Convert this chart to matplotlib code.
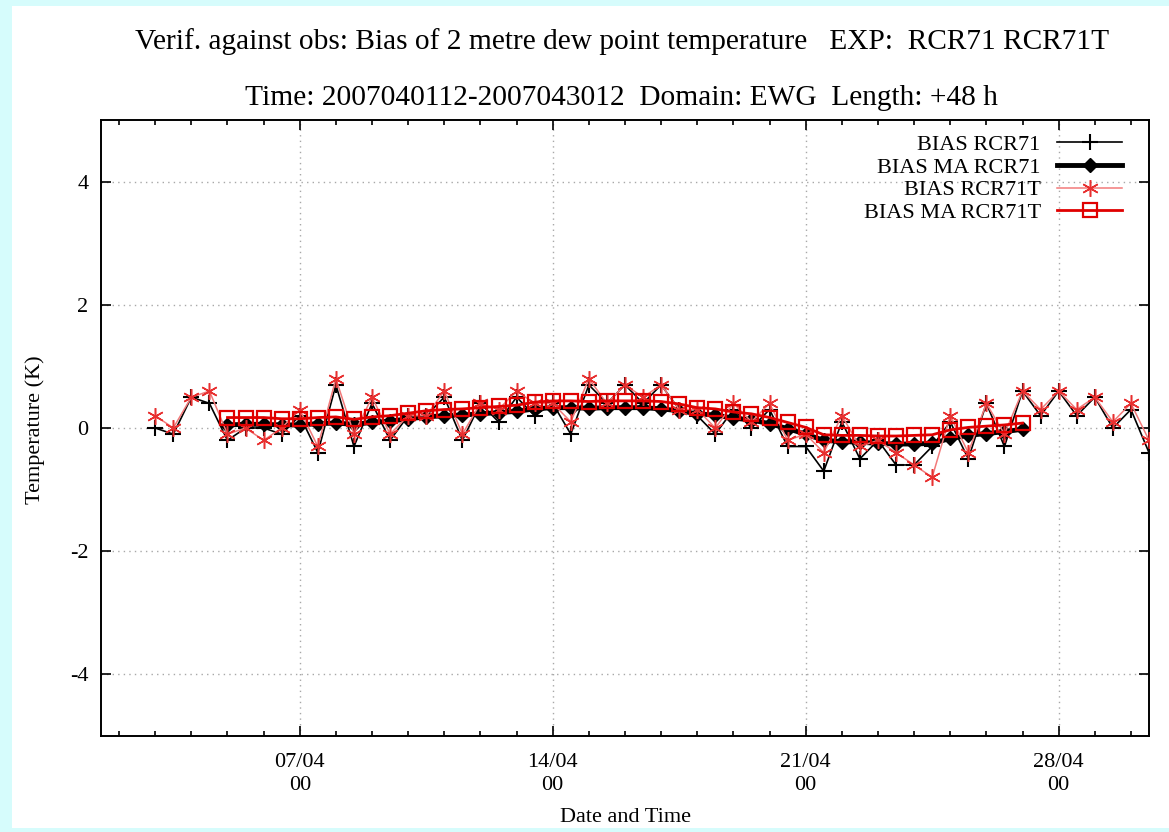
import numpy as np
import pandas as pd
import matplotlib
matplotlib.use("Agg")
import matplotlib.pyplot as plt
import matplotlib.dates as mdates
from matplotlib.patches import Rectangle

plt.rcParams["font.family"] = ["Liberation Serif", "DejaVu Serif"]
plt.rcParams["axes.unicode_minus"] = False

# valid times, every 12 h
times = pd.date_range("2007-04-03 00:00", periods=56, freq="12h")

bias_rcr71 = [0.0, -0.1, 0.5, 0.4, -0.2, 0.0, 0.0, -0.1, 0.2, -0.4,
              0.7, -0.3, 0.4, -0.2, 0.2, 0.2, 0.5, -0.2, 0.4, 0.1,
              0.5, 0.2, 0.4, -0.1, 0.7, 0.4, 0.7, 0.4, 0.7, 0.3,
              0.2, -0.1, 0.3, 0.0, 0.3, -0.3, -0.3, -0.7, 0.1, -0.5,
              -0.2, -0.6, -0.6, -0.3, 0.1, -0.5, 0.4, -0.3, 0.6, 0.2,
              0.6, 0.2, 0.5, 0.0, 0.3, -0.4]

bias_rcr71t = [0.2, 0.0, 0.5, 0.6, -0.1, 0.0, -0.2, 0.0, 0.3, -0.3,
               0.8, -0.1, 0.5, -0.1, 0.2, 0.2, 0.6, -0.1, 0.4, 0.3,
               0.6, 0.4, 0.4, 0.1, 0.8, 0.4, 0.7, 0.5, 0.7, 0.3,
               0.3, 0.0, 0.4, 0.1, 0.4, -0.2, -0.1, -0.4, 0.2, -0.3,
               -0.2, -0.4, -0.6, -0.8, 0.2, -0.4, 0.4, -0.1, 0.6, 0.3,
               0.6, 0.3, 0.5, 0.1, 0.4, -0.2]

# moving averages, 05/04 00 .. 27/04 00
ma_times = times[4:49]
ma_rcr71 = [0.05, 0.06, 0.06, 0.05, 0.05, 0.07, 0.08, 0.06, 0.09, 0.11,
            0.15, 0.18, 0.20, 0.21, 0.23, 0.25, 0.27, 0.31, 0.33, 0.33,
            0.32, 0.33, 0.33, 0.33, 0.31, 0.28, 0.23, 0.21, 0.16, 0.13,
            0.07, -0.01, -0.10, -0.20, -0.22, -0.23, -0.25, -0.26, -0.26, -0.25,
            -0.17, -0.12, -0.09, -0.06, -0.02]
ma_rcr71t = [0.17, 0.17, 0.17, 0.15, 0.15, 0.17, 0.18, 0.14, 0.18, 0.20,
             0.24, 0.28, 0.30, 0.31, 0.33, 0.35, 0.37, 0.42, 0.44, 0.44,
             0.43, 0.44, 0.44, 0.44, 0.43, 0.39, 0.33, 0.31, 0.26, 0.23,
             0.17, 0.09, 0.01, -0.11, -0.12, -0.12, -0.13, -0.13, -0.12, -0.11,
             -0.03, 0.01, 0.03, 0.05, 0.08]

y_ticks = [-4, -2, 0, 2, 4]

fig = plt.figure(figsize=(11.69, 8.32), dpi=100, facecolor="#d6fcfc")
# white panel inside the cyan border
fig.patches.append(Rectangle((12 / 1169, 4 / 832), 1 - 12 / 1169, 822 / 832,
                             transform=fig.transFigure, facecolor="white",
                             edgecolor="none", zorder=-10))
ax = fig.add_axes([101 / 1169, 96 / 832, 1048 / 1169, 616 / 832])
ax.set_zorder(1)

ax.plot(times, bias_rcr71, color="black", lw=1.2, marker="+", ms=11,
        mew=1.5, label="BIAS RCR71", zorder=3)
ax.plot(ma_times, ma_rcr71, color="black", lw=3.5, marker="D", ms=7.5,
        label="BIAS MA RCR71", zorder=4)
ax.plot(times, bias_rcr71t, color="#f27a7a", lw=1.1, marker=(6, 2, 0), ms=12,
        mew=1.1, mec="#e83030", label="BIAS RCR71T", zorder=5)
ax.plot(ma_times, ma_rcr71t, color="#e00000", lw=2.0, marker="s", ms=10,
        mew=1.6, mfc="none", label="BIAS MA RCR71T", zorder=6)

ax.set_xlim(pd.Timestamp("2007-04-01 12:00"), pd.Timestamp("2007-04-30 12:00"))
ax.set_ylim(-5, 5)
ax.set_yticks(y_ticks)
ax.set_yticklabels([str(v) for v in y_ticks])
ax.xaxis.set_major_locator(mdates.DayLocator(bymonthday=[7, 14, 21, 28]))
ax.xaxis.set_minor_locator(mdates.DayLocator())
ax.xaxis.set_major_formatter(mdates.DateFormatter("%d/%m\n%H"))

ax.tick_params(which="both", direction="in", top=True, right=True,
               labelsize=16, width=1.2)
ax.tick_params(which="major", length=7, pad=9)
ax.tick_params(axis="x", which="major", pad=12)
ax.tick_params(which="minor", length=3.5)
for lbl in ax.get_xticklabels():
    lbl.set_linespacing(1.3)
for sp in ax.spines.values():
    sp.set_linewidth(1.4)

ax.grid(True, which="major", color="#a8a8a8", linestyle=(0, (1, 3)), lw=1.0)

ax.legend(loc="upper right", bbox_to_anchor=(0.974, 0.977), frameon=False,
          markerfirst=False, fontsize=16, handlelength=2.9, handletextpad=0.75,
          labelspacing=0.1, borderpad=0, borderaxespad=0)

fig.text(0.532, 1 - 42 / 832,
         "Verif. against obs: Bias of 2 metre dew point temperature   EXP:  RCR71 RCR71T",
         ha="center", va="center", fontsize=21.2)
fig.text(0.532, 1 - 98 / 832,
         "Time: 2007040112-2007043012  Domain: EWG  Length: +48 h",
         ha="center", va="center", fontsize=21.2)
fig.text(35 / 1169, 1 - 430 / 832, "Temperature (K)", rotation=90,
         ha="center", va="center", fontsize=16)
fig.text(625 / 1169, 1 - 818 / 832, "Date and Time", ha="center",
         va="center", fontsize=16)

fig.savefig("out.png", dpi=100, facecolor=fig.get_facecolor())
